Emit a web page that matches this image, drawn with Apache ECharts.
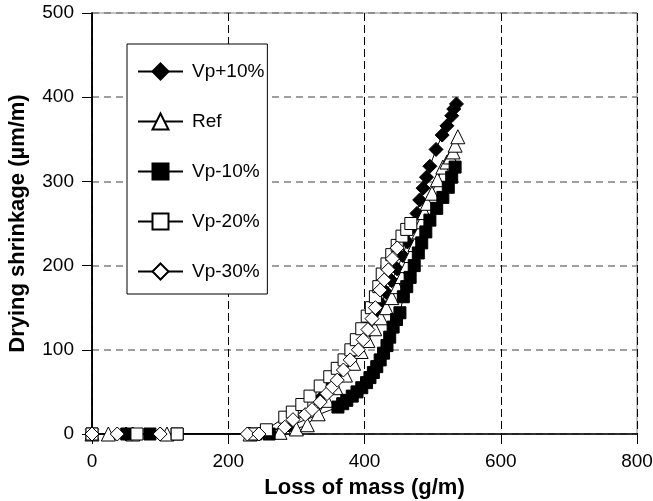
<!DOCTYPE html>
<html><head><meta charset="utf-8">
<script src="https://cdn.jsdelivr.net/npm/echarts@6/dist/echarts.min.js"></script>
<style>html,body{margin:0;padding:0;background:#fff}#c{width:653px;height:501px}</style>
</head><body><div id="c"></div>
<script>
const seriesNames = ['Vp+10%', 'Ref', 'Vp-10%', 'Vp-20%', 'Vp-30%'];
const xTicks = [0, 200, 400, 600, 800];
const yTicks = [0, 100, 200, 300, 400, 500];

const vpPlus10Mass   = [0, 50, 100, 230, 252, 290, 315, 335, 350, 362, 372, 382, 392, 400, 408, 416, 424, 432, 440, 448, 456, 463, 470, 477, 481, 486, 491, 496, 505, 514, 521, 528, 531, 535];
const vpPlus10Shrink = [0, 0, 0, 0, 2, 10, 25, 42, 56, 68, 80, 93, 106, 118, 130, 142, 155, 168, 182, 196, 212, 228, 245, 262, 278, 292, 305, 318, 338, 355, 366, 378, 386, 392];

const refMass   = [0, 24, 60, 110, 232, 276, 300, 316, 332, 345, 358, 372, 384, 395, 405, 415, 424, 432, 440, 448, 455, 462, 468, 474, 480, 484, 488, 492, 499, 507, 515, 521, 526, 530, 533, 537];
const refShrink = [0, 0, 0, 0, 0, 2, 6, 11, 24, 40, 55, 70, 84, 98, 111, 125, 138, 150, 162, 175, 187, 200, 212, 225, 240, 252, 263, 274, 286, 302, 317, 323, 329, 335, 343, 353];

const vpMinus10Mass   = [0, 51, 85, 125, 240, 260, 361, 368, 374, 382, 389, 396, 403, 408, 413, 418, 423, 428, 433, 437, 442, 447, 452, 457, 462, 467, 473, 479, 484, 490, 496, 506, 515, 523, 528, 533];
const vpMinus10Shrink = [0, 0, 0, 0, 0, 0, 32, 36, 40, 45, 50, 55, 61, 67, 73, 80, 88, 96, 105, 115, 127, 136, 144, 163, 175, 186, 200, 215, 227, 240, 254, 268, 281, 293, 305, 317];

const vpMinus20Mass   = [0, 66, 125, 237, 256, 283, 294, 308, 320, 335, 349, 360, 370, 380, 388, 396, 404, 410, 416, 421, 426, 433, 440, 448, 455, 462, 468];
const vpMinus20Shrink = [0, 0, 0, 0, 5, 20, 26, 35, 45, 57, 68, 78, 88, 100, 112, 125, 140, 150, 163, 175, 190, 202, 213, 224, 235, 243, 250];

const vpMinus30Mass   = [0, 37, 100, 228, 245, 283, 295, 313, 323, 335, 345, 353, 360, 369, 379, 391, 398, 405, 411, 416, 423, 429, 435, 441, 448];
const vpMinus30Shrink = [0, 0, 0, 0, 0, 8, 17, 23, 29, 38, 48, 56, 64, 76, 88, 100, 112, 124, 137, 150, 171, 183, 195, 208, 221];

const pairs = (xs, ys) => xs.map((x, i) => [x, ys[i]]);
const FONT = '"Liberation Sans", Arial, sans-serif';

function mk(name, xs, ys, symbol, size, fill) {
  return {
    name, type: 'line', data: pairs(xs, ys), symbol, symbolSize: size,
    showAllSymbol: true, smooth: false,
    lineStyle: { color: '#000', width: 1 },
    itemStyle: { color: fill, borderColor: '#000', borderWidth: 1 },
    emphasis: { disabled: true }, animation: false
  };
}

const chart = echarts.init(document.getElementById('c'), null, { renderer: 'canvas' });
chart.setOption({
  animation: false,
  backgroundColor: '#fff',
  grid: { left: 92, top: 13, right: 16, bottom: 67, containLabel: false, outerBoundsMode: 'none',
    show: true, borderColor: '#888', borderWidth: 1, backgroundColor: 'transparent' },
  legend: {
    orient: 'vertical', left: 127, top: 44,
    data: seriesNames,
    itemWidth: 45, itemHeight: 20, itemGap: 31,
    padding: [18, 3, 13, 10],
    borderColor: '#000', borderWidth: 1, backgroundColor: '#fff',
    textStyle: { fontFamily: FONT, fontSize: 19, color: '#000', padding: [0, 0, 0, 4] },
    selectedMode: false
  },
  xAxis: {
    type: 'value', min: 0, max: 800, interval: 200,
    name: 'Loss of mass (g/m)', nameLocation: 'middle', nameGap: 43,
    nameTextStyle: { fontFamily: FONT, fontSize: 22, fontWeight: 'bold', color: '#000' },
    axisLine: { show: true, onZero: false, lineStyle: { color: '#000', width: 1.5 } },
    axisTick: { show: true, inside: false, length: 10, lineStyle: { color: '#000' } },
    axisLabel: { fontFamily: FONT, fontSize: 19, color: '#000', margin: 18,
      formatter: v => xTicks.includes(v) ? String(v) : '' },
    splitLine: { show: true, lineStyle: { color: '#000', type: [8, 4], width: 1 } }
  },
  yAxis: [{
    type: 'value', min: 0, max: 500, interval: 100,
    name: 'Drying shrinkage (µm/m)', nameLocation: 'middle', nameGap: 63, nameRotate: 90,
    nameTextStyle: { fontFamily: FONT, fontSize: 22, fontWeight: 'bold', color: '#000' },
    axisLine: { show: true, onZero: false, lineStyle: { color: '#000', width: 1.5 } },
    axisTick: { show: true, inside: false, length: 10, lineStyle: { color: '#000' } },
    axisLabel: { fontFamily: FONT, fontSize: 19, color: '#000', margin: 18,
      formatter: v => yTicks.includes(v) ? String(v) : '' },
    splitLine: { show: true, lineStyle: { color: '#808080', type: [7, 5], width: 1.5 } }
  }, {
    type: 'value', min: 0, max: 500, interval: 100, position: 'right',
    axisLine: { show: true, lineStyle: { color: '#000', width: 1.5 } },
    axisTick: { show: false }, axisLabel: { show: false }, splitLine: { show: false }
  }],
  series: [
    mk('Vp+10%', vpPlus10Mass, vpPlus10Shrink, 'diamond', 14, '#000'),
    mk('Ref', refMass, refShrink, 'triangle', 14, '#fff'),
    mk('Vp-10%', vpMinus10Mass, vpMinus10Shrink, 'rect', 12, '#000'),
    mk('Vp-20%', vpMinus20Mass, vpMinus20Shrink, 'rect', 12, '#fff'),
    mk('Vp-30%', vpMinus30Mass, vpMinus30Shrink, 'diamond', 14, '#fff')
  ]
});
</script></body></html>
